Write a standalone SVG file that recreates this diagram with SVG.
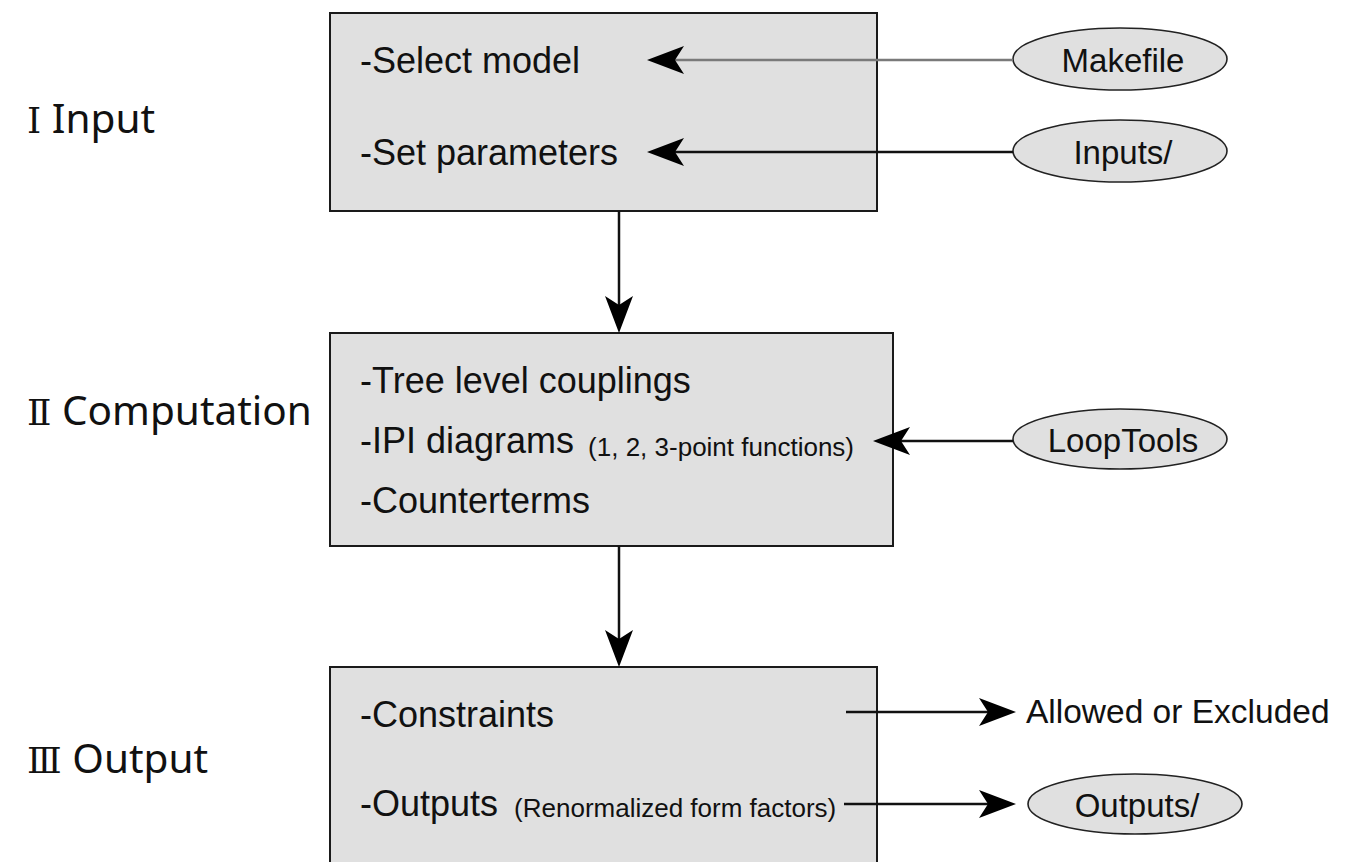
<svg xmlns="http://www.w3.org/2000/svg" width="1353" height="862" viewBox="0 0 1353 862">
<style>
.box{fill:#e0e0e0;stroke:#1a1a1a;stroke-width:2}
.ell{fill:#e0e0e0;stroke:#222;stroke-width:1.6}
.t{font-family:"Liberation Sans",Arial,sans-serif;font-size:36px;fill:#111}
.s{font-family:"Liberation Sans",Arial,sans-serif;font-size:26px;fill:#111}
.e{font-family:"Liberation Sans",Arial,sans-serif;font-size:33px;fill:#111;text-anchor:middle}
.lbl{font-family:"Noto Sans","DejaVu Sans",sans-serif;font-size:40.5px;fill:#111}
.rn{font-family:"DejaVu Serif","Liberation Serif",serif;font-size:36px}
.c{fill:none;stroke:#111;stroke-width:2.5}
.g{stroke:#7a7a7a}
</style>
<defs>
<marker id="ah" markerUnits="userSpaceOnUse" markerWidth="38" markerHeight="30" refX="28" refY="14" orient="auto" overflow="visible">
<path d="M37,14 L0,0 L9,14 L0,28 Z" fill="#000"/>
</marker>
</defs>
<rect width="1353" height="862" fill="#fff"/>

<g id="label-input"><text class="lbl" x="27" y="133"><tspan class="rn">Ⅰ</tspan> Input</text></g>
<g id="label-computation"><text class="lbl" x="27" y="425"><tspan class="rn">Ⅱ</tspan> Computation</text></g>
<g id="label-output"><text class="lbl" x="27" y="773"><tspan class="rn">Ⅲ</tspan> Output</text></g>

<g id="box-input">
<rect class="box" x="330" y="13" width="547" height="198"/>
<text class="t" x="360" y="73">-Select model</text>
<text class="t" x="360" y="165">-Set parameters</text>
</g>

<g id="box-computation">
<rect class="box" x="330" y="333" width="563" height="213"/>
<text class="t" x="360" y="393">-Tree level couplings</text>
<text class="t" x="360" y="453">-IPI diagrams <tspan class="s" dx="4" dy="3">(1, 2, 3-point functions)</tspan></text>
<text class="t" x="360" y="513">-Counterterms</text>
</g>

<g id="box-output">
<rect class="box" x="330" y="667" width="547" height="230"/>
<text class="t" x="360" y="727">-Constraints</text>
<text class="t" x="360" y="816">-Outputs <tspan class="s" dx="6" dy="1">(Renormalized form factors)</tspan></text>
</g>

<g id="makefile">
<ellipse class="ell" cx="1120" cy="59" rx="107" ry="31"/>
<text class="e" x="1123" y="72">Makefile</text>
</g>
<g id="inputs">
<ellipse class="ell" cx="1120" cy="151" rx="107" ry="31"/>
<text class="e" x="1123" y="164">Inputs/</text>
</g>
<g id="looptools">
<ellipse class="ell" cx="1120" cy="439" rx="107" ry="30"/>
<text class="e" x="1123" y="452">LoopTools</text>
</g>
<g id="outputs">
<ellipse class="ell" cx="1135" cy="804" rx="107" ry="30"/>
<text class="e" x="1137" y="817">Outputs/</text>
</g>
<g id="allowed">
<text class="t" x="1026" y="723" style="font-size:33.5px">Allowed or Excluded</text>
</g>

<g id="connectors">
<line class="c g" x1="1013" y1="60" x2="656" y2="60" marker-end="url(#ah)"/>
<line class="c" x1="1013" y1="152" x2="656" y2="152" marker-end="url(#ah)"/>
<line class="c" x1="1013" y1="441" x2="882" y2="441" marker-end="url(#ah)"/>
<line class="c" x1="619" y1="211" x2="619" y2="324" marker-end="url(#ah)"/>
<line class="c" x1="619" y1="546" x2="619" y2="658" marker-end="url(#ah)"/>
<line class="c" x1="846" y1="712" x2="1007" y2="712" marker-end="url(#ah)"/>
<line class="c" x1="844" y1="804" x2="1007" y2="804" marker-end="url(#ah)"/>
</g>
</svg>
